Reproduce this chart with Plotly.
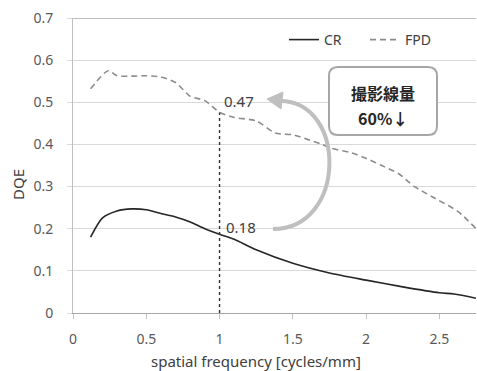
import plotly.graph_objects as go

# ---- data ----
freq_cr = [0.12, 0.2, 0.3, 0.4, 0.5, 0.6, 0.7, 0.8, 0.9, 1.0, 1.1, 1.25, 1.5, 1.75, 2.0, 2.25, 2.5, 2.6, 2.75]
dqe_cr = [0.18, 0.225, 0.242, 0.247, 0.245, 0.236, 0.228, 0.216, 0.2, 0.187, 0.175, 0.15, 0.118, 0.095, 0.078, 0.062, 0.048, 0.045, 0.035]

freq_fpd = [0.12, 0.24, 0.3, 0.4, 0.5, 0.6, 0.7, 0.8, 0.9, 1.0, 1.1, 1.25, 1.38, 1.5, 1.6, 1.7,
            1.76, 1.9, 2.0, 2.1, 2.22, 2.33, 2.45, 2.63, 2.75]
dqe_fpd = [0.532, 0.575, 0.563, 0.562, 0.563, 0.56, 0.547, 0.514, 0.504, 0.476, 0.464, 0.456, 0.427, 0.423, 0.412, 0.40,
           0.391, 0.38, 0.367, 0.351, 0.331, 0.30, 0.276, 0.24, 0.2]

x_ticks = [0, 0.5, 1, 1.5, 2, 2.5]
x_tick_labels = ["0", "0.5", "1", "1.5", "2", "2.5"]
y_ticks = [0, 0.1, 0.2, 0.3, 0.4, 0.5, 0.6, 0.7]
y_tick_labels = ["0", "0.1", "0.2", "0.3", "0.4", "0.5", "0.6", "0.7"]

marker_freq = 1.0
label_fpd = "0.47"
label_cr = "0.18"
callout_line1 = "<b>撮影線量</b>"
callout_line2 = "<b>60%↓</b>"

# ---- layout geometry ----
W, H = 477, 371
ML, MR, MT, MB = 73, 1, 18, 58
XR = [0, 2.75]
YR = [0, 0.7]
PW = W - ML - MR
PH = H - MT - MB


def dx(px):
    return XR[0] + (px - ML) / PW * (XR[1] - XR[0])


def dy(py):
    return YR[0] + (MT + PH - py) / PH * (YR[1] - YR[0])


def px_paper(px):
    return (px - ML) / PW


def py_paper(py):
    return (MT + PH - py) / PH


FONT = "Noto Sans, Open Sans, DejaVu Sans, sans-serif"
TXT = "#595959"

fig = go.Figure()
fig.add_trace(go.Scatter(x=freq_cr, y=dqe_cr, name="CR", mode="lines",
                         line=dict(color="#262626", width=1.6, shape="spline", smoothing=0.7)))
fig.add_trace(go.Scatter(x=freq_fpd, y=dqe_fpd, name="FPD", mode="lines",
                         line=dict(color="#8c8c8c", width=1.6, dash="6px,4px", shape="spline", smoothing=0.7)))

# vertical dotted marker at x=1
fig.add_shape(type="line", x0=marker_freq, x1=marker_freq, y0=0, y1=0.476,
              line=dict(color="#333333", width=1.4, dash="3px,3px"))

# top border line
fig.add_shape(type="line", xref="paper", yref="y", x0=0, x1=1, y0=0.7, y1=0.7,
              line=dict(color="#a6a6a6", width=1.5))

# curved arrow (cubic bezier) from 0.18 label to 0.47 label
sx, sy = 273, 229
ex, ey = 280, 101
c1x, c2x = 347, 347
path = (f"M {dx(sx)},{dy(sy)} C {dx(c1x)},{dy(sy)} {dx(c2x)},{dy(ey)} {dx(ex)},{dy(ey)}")
fig.add_shape(type="path", path=path, line=dict(color="#bfbfbf", width=4))
head = (f"M {dx(267)},{dy(99)} L {dx(283)},{dy(92)} L {dx(281)},{dy(109)} Z")
fig.add_shape(type="path", path=head, fillcolor="#bfbfbf", line=dict(color="#bfbfbf", width=1))

# rounded callout box
bx0, by0, bx1, by1, r = 329, 67, 437, 135, 9
box = (f"M {dx(bx0 + r)},{dy(by0)} L {dx(bx1 - r)},{dy(by0)} Q {dx(bx1)},{dy(by0)} {dx(bx1)},{dy(by0 + r)} "
       f"L {dx(bx1)},{dy(by1 - r)} Q {dx(bx1)},{dy(by1)} {dx(bx1 - r)},{dy(by1)} "
       f"L {dx(bx0 + r)},{dy(by1)} Q {dx(bx0)},{dy(by1)} {dx(bx0)},{dy(by1 - r)} "
       f"L {dx(bx0)},{dy(by0 + r)} Q {dx(bx0)},{dy(by0)} {dx(bx0 + r)},{dy(by0)} Z")
fig.add_shape(type="path", path=box, fillcolor="white", line=dict(color="#a6a6a6", width=2))

CJK = "Noto Sans CJK JP, Noto Sans, sans-serif"
fig.add_annotation(x=dx(383), y=dy(93), text=callout_line1, showarrow=False,
                   font=dict(family=CJK, size=16, color="#262626"), xanchor="center", yanchor="middle")
fig.add_annotation(x=dx(383), y=dy(118), text=callout_line2, showarrow=False,
                   font=dict(family=CJK, size=16, color="#262626"), xanchor="center", yanchor="middle")

fig.add_annotation(x=dx(239), y=dy(101), text=label_fpd, showarrow=False,
                   font=dict(family=FONT, size=15, color="#404040"), xanchor="center", yanchor="middle")
fig.add_annotation(x=dx(240.5), y=dy(227), text=label_cr, showarrow=False,
                   font=dict(family=FONT, size=15, color="#404040"), xanchor="center", yanchor="middle")

# axis titles
fig.add_annotation(xref="paper", yref="paper", x=px_paper(18), y=py_paper(184),
                   text="DQE", textangle=-90, showarrow=False,
                   font=dict(family=FONT, size=15, color="#404040"), xanchor="center", yanchor="middle")
fig.add_annotation(xref="paper", yref="paper", x=px_paper(256), y=py_paper(361),
                   text="spatial frequency [cycles/mm]", showarrow=False,
                   font=dict(family=FONT, size=15, color="#404040"), xanchor="center", yanchor="middle")

fig.update_layout(
    width=W, height=H,
    margin=dict(l=ML, r=MR, t=MT, b=MB, autoexpand=False),
    paper_bgcolor="white", plot_bgcolor="white",
    font=dict(family=FONT, size=14, color=TXT),
    showlegend=True,
    legend=dict(orientation="h", x=px_paper(284), y=py_paper(40), xanchor="left", yanchor="middle",
                bgcolor="rgba(0,0,0,0)", font=dict(family=FONT, size=14, color="#404040"),
                itemwidth=30, entrywidth=36, entrywidthmode="pixels", tracegroupgap=0),
    xaxis=dict(range=XR, tickvals=x_ticks, ticktext=x_tick_labels, showgrid=False, zeroline=False,
               showline=True, linecolor="#a6a6a6", linewidth=1, ticks="outside", ticklen=5,
               tickcolor="#bfbfbf", ticklabelstandoff=8, tickfont=dict(size=14, color=TXT),
               automargin=False),
    yaxis=dict(range=YR, tickvals=y_ticks, ticktext=y_tick_labels, showgrid=True, gridcolor="#d9d9d9",
               gridwidth=1, zeroline=False, showline=True, linecolor="#bfbfbf", linewidth=1,
               ticks="outside", ticklen=5, tickcolor="#d9d9d9", ticklabelstandoff=11,
               tickfont=dict(size=14, color=TXT), automargin=False),
)

fig.write_html("out.html", config={"displayModeBar": False},
               post_script="document.body.style.margin='0';document.body.style.padding='0';")
